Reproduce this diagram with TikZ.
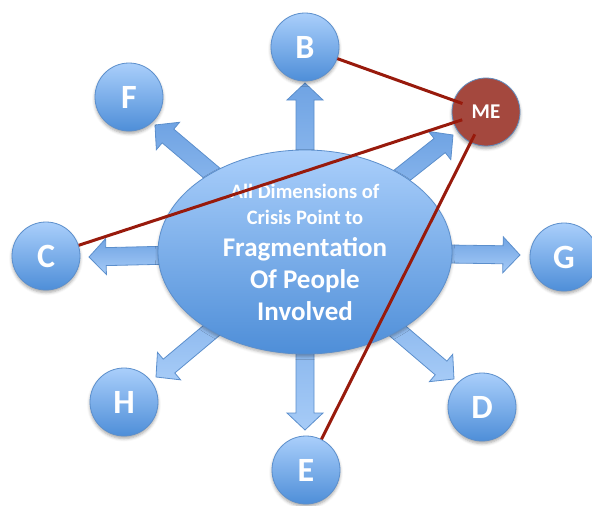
\documentclass[tikz,border=0pt]{standalone}
\usepackage{fontspec}
\setmainfont{Carlito}
\usetikzlibrary{calc,shapes.geometric,shadows.blur}
\definecolor{bluetop}{HTML}{AACFFB}
\definecolor{bluebot}{HTML}{4E8ED8}
\definecolor{blueline}{HTML}{5C8FCC}
\definecolor{mered}{HTML}{A4483E}
\definecolor{linkred}{HTML}{981A0C}
\definecolor{arrowlight}{HTML}{A6CBF7}
\definecolor{arrowdark}{HTML}{6FA3E3}
\newcommand\blockarrow[2]{%
  \path[barrow] let \p1=(#1), \p2=(#2), \n1={atan2(\y2-\y1,\x2-\x1)}, \n2={veclen(\x2-\x1,\y2-\y1)} in
    [shift={(\p1)}, rotate=\n1]
    (0pt,-9pt) -- (\n2-17pt,-9pt) -- (\n2-17pt,-18pt) -- (\n2,0pt) -- (\n2-17pt,18pt)
    -- (\n2-17pt,9pt) -- (0pt,9pt) -- cycle;
}
\tikzset{
  circ/.style={circle, minimum size=68pt, inner sep=0pt, top color=bluetop, bottom color=bluebot,
    draw=blueline, line width=0.8pt, text=white, font=\fontsize{34}{36}\selectfont\bfseries,
    blur shadow={shadow xshift=0pt, shadow yshift=-2.5pt, shadow blur radius=3pt, shadow opacity=35}},
  mecirc/.style={circle, minimum size=68pt, inner sep=0pt, fill=mered,
    draw=blueline!80!gray, line width=0.8pt, text=white, font=\fontsize{21}{22}\selectfont\bfseries,
    blur shadow={shadow xshift=0pt, shadow yshift=-2.5pt, shadow blur radius=3pt, shadow opacity=35}},
  core/.style={ellipse, minimum width=294pt, minimum height=204pt, inner sep=0pt, top color=bluetop,
    bottom color=bluebot, draw=blueline, line width=0.8pt, text=white, align=center,
    font=\fontsize{27}{32}\selectfont\bfseries,
    blur shadow={shadow xshift=0pt, shadow yshift=-2.5pt, shadow blur radius=3pt, shadow opacity=30}},
  barrow/.style={top color=arrowdark, bottom color=arrowlight, draw=blueline, line width=0.8pt, line join=miter},
  link/.style={draw=linkred, line width=3pt},
}
\begin{document}
\begin{tikzpicture}[x=1pt, y=-1pt]
\useasboundingbox (0,0) rectangle (592,506);
\coordinate (O) at (305,252);
% arrow tips
\coordinate (tB) at (305,83);
\coordinate (tE) at (305,430);
\coordinate (tG) at (520,255);
\coordinate (tC) at (89,257);
\coordinate (tNE) at (453,135);
\coordinate (tF) at (155,125);
\coordinate (tH) at (156,377);
\coordinate (tD) at (454,379);
\blockarrow{O}{tB}
\blockarrow{O}{tE}
\blockarrow{O}{tG}
\blockarrow{O}{tC}
\blockarrow{O}{tNE}
\blockarrow{O}{tF}
\blockarrow{O}{tH}
\blockarrow{O}{tD}
% central ellipse
\node[core] (M) at (O) {{\fontsize{20.5}{25}\selectfont All Dimensions of}\\[-6pt]
  {\fontsize{20.5}{25}\selectfont Crisis Point to}\\[0pt]
  Fragmentation\\ Of People\\ Involved};
% outer circles
\node[circ] (B) at (305,47) {B};
\node[circ] (F) at (129,97) {F};
\node[circ] (C) at (46,256) {C};
\node[circ] (G) at (564,257) {G};
\node[circ] (H) at (124,402) {H};
\node[circ] (D) at (482,407) {D};
\node[circ] (E) at (306,470) {E};
\node[mecirc] (ME) at (486,112) {ME};
% links to ME
\draw[link, shorten >=25pt] (B) -- (ME.center);
\draw[link, shorten >=25pt] (C) -- (ME.center);
\draw[link, shorten >=25pt] (E) -- (ME.center);
\end{tikzpicture}
\end{document}
